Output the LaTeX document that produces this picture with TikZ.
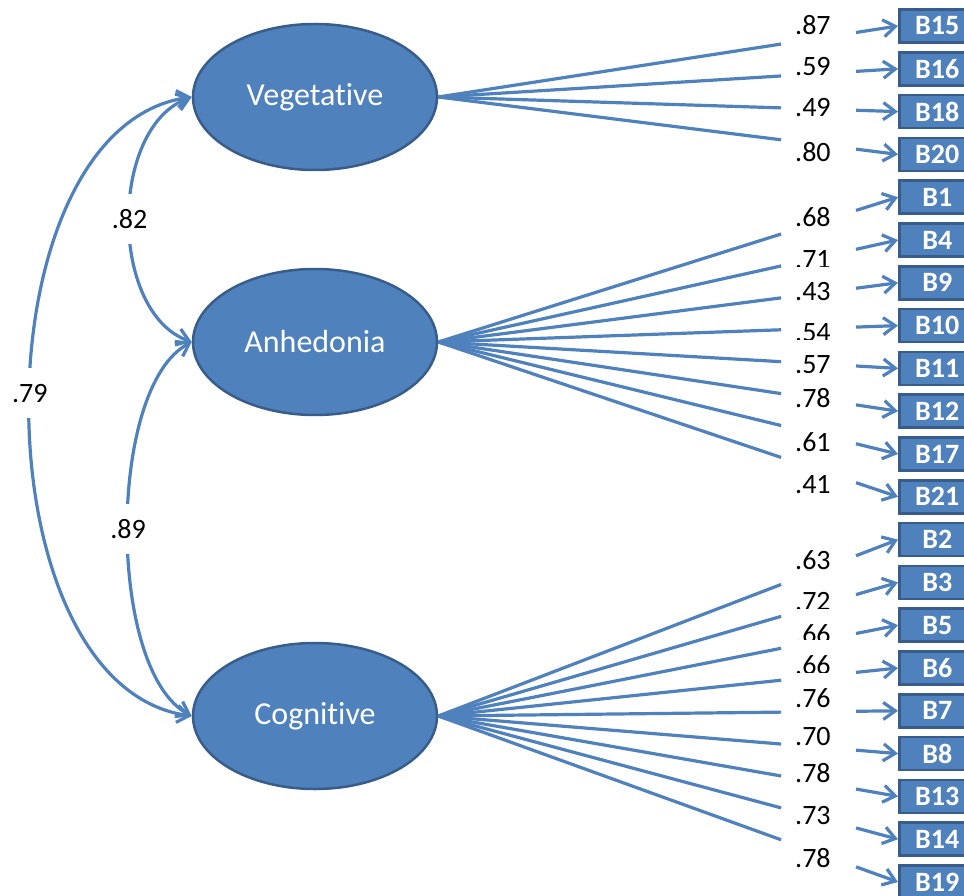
\documentclass[tikz,border=0pt]{standalone}
\usepackage{fontspec}
\setmainfont{Carlito}[Ligatures=NoCommon]
\usetikzlibrary{arrows.meta,calc,shapes.geometric}
\definecolor{ofblue}{HTML}{4F81BD}
\definecolor{ofdark}{HTML}{385D8A}
\begin{document}
\begin{tikzpicture}[x=1pt,y=-1pt,
  latent/.style={ellipse, fill=ofblue, draw=ofdark, line width=2.5pt,
    minimum width=244pt, minimum height=146pt, inner sep=0pt, text=white,
    font=\fontsize{32}{32}\selectfont},
  item/.style={rectangle, fill=ofblue, draw=ofdark, line width=2.5pt,
    minimum width=76pt, minimum height=33pt, inner sep=0pt, text=white,
    font=\fontsize{28}{28}\selectfont\bfseries, anchor=west},
  conn/.style={draw=ofblue, line width=3.2pt},
  tipend/.style={-{Straight Barb[length=12pt,width=17pt]}},
  tipboth/.style={{Straight Barb[length=12pt,width=17pt]}-{Straight Barb[length=12pt,width=17pt]}},
  lab/.style={fill=white, inner sep=0pt, minimum height=50pt,
    font=\fontsize{28}{28}\selectfont, anchor=west},
]
\useasboundingbox (0,0) rectangle (964,896);
\clip (0,0) rectangle (964,896);

% latent factors
\node[latent] (veg) at (315,97) {Vegetative};
\node[latent] (anh) at (315,342) {Anhedonia};
\node[latent] (cog) at (315,716) {Cognitive};

% indicator boxes
\foreach \n [count=\i from 0] in {15,16,18,20,1,4,9,10,11,12,17,21,2,3,5,6,7,8,13,14,19}
  \node[item] (b\n) at (898,{26+42.8*\i}) {B\n};

% loadings
\foreach \f/\n in {veg/15,veg/16,veg/18,veg/20,
                   anh/1,anh/4,anh/9,anh/10,anh/11,anh/12,anh/17,anh/21,
                   cog/2,cog/3,cog/5,cog/6,cog/7,cog/8,cog/13,cog/14,cog/19}{
  \draw[conn] (\f.east) -- ($(\f.east)!0.7457!(b\n.west)$);
  \draw[conn,tipend] ($(\f.east)!0.9087!(b\n.west)$) -- (b\n.west);
}

% loading labels (drawn top to bottom, white boxes overlap like the original)
\foreach \y/\t [count=\k] in {25/.87,67/.59,108/.49,152/.80,
    217/.68,260/.71,292/.43,333/.54,365/.57,398/.78,442/.61,485/.41,
    560/.63,602/.72,634/.66,665/.66,698/.76,737/.70,773/.78,816/.73,858/.78}
  \node[lab] (l\k) at (795,\y) {\t};

% correlations
\draw[conn,tipboth] (veg.west) .. controls +(-216,30) and +(-216,-30) .. (cog.west)
  node[lab, anchor=center, pos=0.485] (c79) {.79};
\draw[conn,tipboth] (veg.west) .. controls +(-83,30) and +(-83,-30) .. (anh.west)
  node[lab, anchor=center, pos=0.5] (c82) {.82};
\draw[conn,tipboth] (anh.west) .. controls +(-85,45) and +(-85,-45) .. (cog.west)
  node[lab, anchor=center, pos=0.5] (c89) {.89};
\end{tikzpicture}
\end{document}
